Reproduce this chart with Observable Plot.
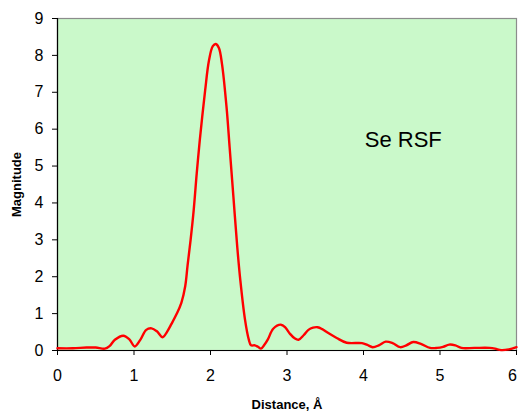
<!DOCTYPE html>
<html>
<head>
<meta charset="utf-8">
<script src="https://cdn.jsdelivr.net/npm/d3@7"></script>
<script src="https://cdn.jsdelivr.net/npm/@observablehq/plot@0.6"></script>
<style>
  html, body { margin: 0; padding: 0; background: #fff; }
  #chart svg { font-family: Arial, "Liberation Sans", sans-serif; display: block; }
</style>
</head>
<body>
<div id="chart"></div>
<script>
const distance = [0.00, 0.20, 0.38, 0.50, 0.62, 0.68, 0.75, 0.86, 0.94, 1.01, 1.08, 1.16, 1.23, 1.30, 1.375, 1.43, 1.49, 1.56, 1.62, 1.67, 1.70, 1.74, 1.78, 1.82, 1.86, 1.93, 1.98, 2.03, 2.07, 2.11, 2.15, 2.21, 2.25, 2.30, 2.35, 2.39, 2.45, 2.50, 2.53, 2.58, 2.62, 2.66, 2.70, 2.75, 2.82, 2.92, 2.98, 3.04, 3.10, 3.15, 3.22, 3.28, 3.34, 3.40, 3.46, 3.52, 3.65, 3.78, 3.98, 4.05, 4.12, 4.20, 4.29, 4.38, 4.48, 4.56, 4.65, 4.75, 4.87, 4.96, 5.04, 5.12, 5.20, 5.28, 5.45, 5.65, 5.72, 5.80, 5.90, 6.00];
const magnitude = [0.06, 0.06, 0.08, 0.08, 0.05, 0.12, 0.29, 0.40, 0.30, 0.11, 0.28, 0.56, 0.60, 0.52, 0.36, 0.50, 0.72, 1.00, 1.30, 1.75, 2.30, 3.00, 3.80, 4.80, 5.70, 7.05, 7.86, 8.25, 8.31, 8.20, 7.77, 6.59, 5.51, 4.15, 2.80, 1.90, 0.85, 0.30, 0.14, 0.14, 0.10, 0.05, 0.14, 0.30, 0.59, 0.70, 0.62, 0.45, 0.33, 0.29, 0.42, 0.56, 0.62, 0.63, 0.58, 0.50, 0.34, 0.21, 0.20, 0.15, 0.09, 0.14, 0.24, 0.20, 0.09, 0.14, 0.23, 0.18, 0.07, 0.07, 0.10, 0.16, 0.14, 0.07, 0.07, 0.07, 0.05, 0.01, 0.03, 0.09];
const xTicks = [0, 1, 2, 3, 4, 5, 6];
const xInnerTicks = [0, 1, 2, 3, 4, 5];
const xLastTick = [6];
const yTicks = [0, 1, 2, 3, 4, 5, 6, 7, 8, 9];
const xLabel = "Distance, Å";
const yLabel = "Magnitude";
const annotation = [{text: "Se RSF", x: 4.52, y: 5.7}];

const data = distance.map((d, i) => ({d, m: magnitude[i]}));

const chart = Plot.plot({
  width: 520,
  height: 412,
  marginTop: 18,
  marginRight: 4,
  marginBottom: 62,
  marginLeft: 57,
  style: {fontFamily: "Arial, 'Liberation Sans', sans-serif", fontSize: "16px", color: "#000", background: "#fff"},
  x: {domain: [0, 6]},
  y: {domain: [0, 9]},
  marks: [
    Plot.frame({fill: "#caf9ca", stroke: "#8c8c8c", strokeWidth: 1.2}),
    Plot.ruleX([0], {stroke: "#000", strokeWidth: 1.2}),
    Plot.ruleY([0], {stroke: "#000", strokeWidth: 1.2}),
    Plot.axisX({ticks: xTicks, tickFormat: () => "", tickSize: 5, label: null}),
    Plot.axisX({ticks: xInnerTicks, tickFormat: "d", tickSize: 0, tickPadding: 19, fontSize: 16, label: null}),
    Plot.axisX({ticks: xLastTick, tickFormat: "d", tickSize: 0, tickPadding: 19, fontSize: 16, label: null, dx: -4}),
    Plot.axisY({ticks: yTicks, tickFormat: "d", tickSize: 5, tickPadding: 9, fontSize: 16, label: null}),
    Plot.axisX({ticks: [], label: xLabel, labelAnchor: "center", labelArrow: "none", labelOffset: 58, fontSize: 13, fontWeight: "bold"}),
    Plot.axisY({ticks: [], label: yLabel, labelAnchor: "center", labelArrow: "none", labelOffset: 46, fontSize: 13, fontWeight: "bold"}),
    Plot.line(data, {x: "d", y: "m", stroke: "#ff0000", strokeWidth: 2.4, curve: "catmull-rom"}),
    Plot.text(annotation, {x: "x", y: "y", text: "text", fontSize: 22, fill: "#000"})
  ]
});
document.getElementById("chart").appendChild(chart);
</script>
</body>
</html>
